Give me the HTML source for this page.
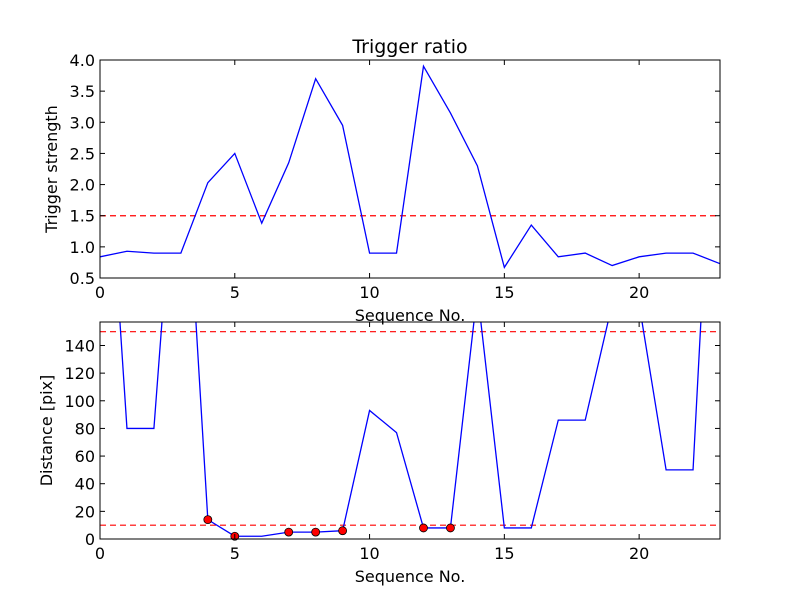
<!DOCTYPE html>
<html><head><meta charset="utf-8"><style>
body{margin:0;background:#fff}
svg{display:block;font-family:"DejaVu Sans","Liberation Sans",sans-serif}
</style></head><body>
<svg id="c" width="800" height="600" viewBox="0 0 800 600"></svg>
<script>
const seq = [0,1,2,3,4,5,6,7,8,9,10,11,12,13,14,15,16,17,18,19,20,21,22,23];
const ratio = [0.84,0.93,0.9,0.9,2.03,2.5,1.38,2.35,3.7,2.95,0.9,0.9,3.9,3.15,2.3,0.67,1.35,0.84,0.9,0.7,0.84,0.9,0.9,0.73];
const dist = [376,80,80,338,14,2,2,5,5,6,93,77,8,8,179,8,8,86,86,170,170,50,50,419];
const ratioThreshold = 1.5;
const distThresholds = [10,150];
const topYTicks = ["0.5","1.0","1.5","2.0","2.5","3.0","3.5","4.0"];
const botYTicks = ["0","20","40","60","80","100","120","140"];
const xTicks = ["0","5","10","15","20"];

const NS="http://www.w3.org/2000/svg";
const svg=document.getElementById('c');
function mk(t,a,p){const e=document.createElementNS(NS,t);for(const k in a)e.setAttribute(k,a[k]);(p||svg).appendChild(e);return e;}
const L=100,R=720;
const sx=v=>L+(v-0)/(23-0)*(R-L);

function panel(name,top,bot,ymin,ymax,yt,ylabel,title,vals,hl,dots){
  const sy=v=>bot-(v-ymin)/(ymax-ymin)*(bot-top);
  const g=mk('g',{});
  
  
  const cp=mk('clipPath',{id:'cp'+name},g);
  mk('rect',{x:L,y:top,width:R-L,height:bot-top},cp);
  hl.forEach(h=>{const l=mk('line',{x1:L,x2:R,y1:sy(h),y2:sy(h),stroke:'#ff0000','stroke-width':1.2,'stroke-dasharray':'6,4','clip-path':'url(#cp'+name+')'},g);
    
    });
  const pts=vals.map((v,i)=>sx(seq[i]).toFixed(2)+','+sy(v).toFixed(2)).join(' ');
  const pl=mk('polyline',{points:pts,fill:'none',stroke:'#0000ff','stroke-width':1.3,'clip-path':'url(#cp'+name+')'},g);
  
  
  if(dots){vals.forEach((v,i)=>{if(ratio[i]>ratioThreshold&&v<distThresholds[1]){
    const c=mk('circle',{cx:sx(seq[i]),cy:sy(v),r:4,fill:'#ff0000',stroke:'#000','stroke-width':0.8},g);
    
    }});}
  const fr=mk('rect',{x:L,y:top,width:R-L,height:bot-top,fill:'none',stroke:'#000','stroke-width':1},g);
  
  
  xTicks.forEach(t=>{const x=sx(+t);
    mk('line',{x1:x,x2:x,y1:bot,y2:bot-5,stroke:'#000'},g);mk('line',{x1:x,x2:x,y1:top,y2:top+5,stroke:'#000'},g);
    const tx=mk('text',{x:x,y:bot+20,'text-anchor':'middle','font-size':16},g);tx.textContent=t;
    
    });
  yt.forEach(t=>{const y=sy(+t);
    mk('line',{x1:L,x2:L+5,y1:y,y2:y,stroke:'#000'},g);mk('line',{x1:R,x2:R-5,y1:y,y2:y,stroke:'#000'},g);
    const tx=mk('text',{x:L-5,y:y+6,'text-anchor':'end','font-size':16},g);tx.textContent=t;
    
    });
  const xl=mk('text',{x:(L+R)/2,y:bot+43,'text-anchor':'middle','font-size':16},g);xl.textContent='Sequence No.';
  
  
  const yl=mk('text',{x:0,y:0,'text-anchor':'middle','font-size':16,transform:'translate('+(name==='top-panel'?57:52)+','+((top+bot)/2)+') rotate(-90)'},g);yl.textContent=ylabel;
  
  
  if(title){const ti=mk('text',{x:(L+R)/2,y:top-7,'text-anchor':'middle','font-size':19},g);ti.textContent=title;
    
    }
}
panel('top-panel',60,278,0.5,4.0,topYTicks,'Trigger strength','Trigger ratio',ratio,[ratioThreshold],false);
panel('bottom-panel',322,539,0,157,botYTicks,'Distance [pix]',null,dist,distThresholds,true);
</script>
</body></html>
